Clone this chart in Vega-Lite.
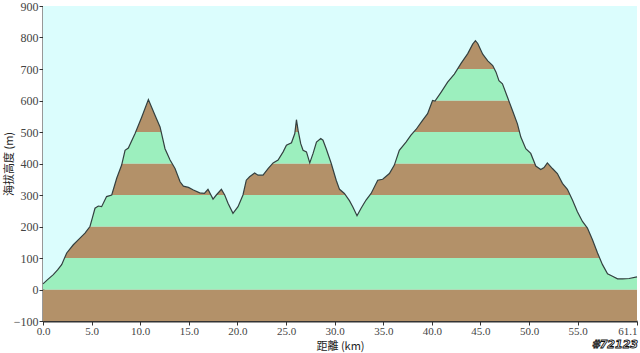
{
  "$schema": "https://vega.github.io/schema/vega-lite/v6.json",
  "width": 594,
  "height": 315,
  "autosize": "none",
  "padding": {"left": 43, "top": 6, "right": 3, "bottom": 32},
  "background": "white",
  "config": {
    "view": {"stroke": null, "fill": "#dbfdfd"},
    "axis": {
      "domainColor": "#333333",
      "domainWidth": 2,
      "tickColor": "#333333",
      "tickSize": 4,
      "grid": false,
      "labelFont": "Liberation Serif",
      "labelFontSize": 12,
      "labelColor": "#444444",
      "titleFont": "Noto Sans CJK TC",
      "titleFontSize": 11,
      "titleFontWeight": "normal",
      "titleColor": "#222222"
    }
  },
  "datasets": {
    "profile": [
      {"km": 0.0, "elev": 18}, {"km": 0.5, "elev": 32}, {"km": 1.06, "elev": 47}, {"km": 1.5, "elev": 62},
      {"km": 1.92, "elev": 79}, {"km": 2.44, "elev": 116}, {"km": 3.12, "elev": 142}, {"km": 3.7, "elev": 160},
      {"km": 4.32, "elev": 179}, {"km": 4.83, "elev": 200}, {"km": 5.1, "elev": 230}, {"km": 5.35, "elev": 258},
      {"km": 5.69, "elev": 265}, {"km": 6.03, "elev": 263}, {"km": 6.54, "elev": 295}, {"km": 7.07, "elev": 300},
      {"km": 7.58, "elev": 353}, {"km": 8.09, "elev": 395}, {"km": 8.44, "elev": 442}, {"km": 8.78, "elev": 449},
      {"km": 9.47, "elev": 495}, {"km": 10.15, "elev": 547}, {"km": 10.84, "elev": 603}, {"km": 11.52, "elev": 553},
      {"km": 12.04, "elev": 516}, {"km": 12.55, "elev": 447}, {"km": 13.07, "elev": 411}, {"km": 13.58, "elev": 384},
      {"km": 14.1, "elev": 342}, {"km": 14.44, "elev": 328}, {"km": 14.96, "elev": 324}, {"km": 15.47, "elev": 316},
      {"km": 16.12, "elev": 307}, {"km": 16.6, "elev": 305}, {"km": 16.97, "elev": 318}, {"km": 17.49, "elev": 287},
      {"km": 17.83, "elev": 300}, {"km": 18.35, "elev": 318}, {"km": 18.69, "elev": 300}, {"km": 19.03, "elev": 274},
      {"km": 19.54, "elev": 242}, {"km": 20.06, "elev": 263}, {"km": 20.57, "elev": 300}, {"km": 20.91, "elev": 347},
      {"km": 21.25, "elev": 358}, {"km": 21.77, "elev": 370}, {"km": 22.12, "elev": 363}, {"km": 22.63, "elev": 363},
      {"km": 23.15, "elev": 384}, {"km": 23.67, "elev": 402}, {"km": 24.18, "elev": 411}, {"km": 24.7, "elev": 437},
      {"km": 25.04, "elev": 458}, {"km": 25.56, "elev": 466}, {"km": 25.9, "elev": 495}, {"km": 26.07, "elev": 539},
      {"km": 26.24, "elev": 505}, {"km": 26.51, "elev": 463}, {"km": 26.75, "elev": 442}, {"km": 27.1, "elev": 437},
      {"km": 27.44, "elev": 402}, {"km": 27.78, "elev": 432}, {"km": 28.13, "elev": 468}, {"km": 28.57, "elev": 479},
      {"km": 28.8, "elev": 474}, {"km": 29.13, "elev": 447}, {"km": 29.65, "elev": 400}, {"km": 30.16, "elev": 347},
      {"km": 30.5, "elev": 318}, {"km": 31.0, "elev": 305}, {"km": 31.52, "elev": 282}, {"km": 31.86, "elev": 263},
      {"km": 32.3, "elev": 234}, {"km": 32.72, "elev": 258}, {"km": 33.23, "elev": 284}, {"km": 33.75, "elev": 305},
      {"km": 34.43, "elev": 347}, {"km": 34.94, "elev": 350}, {"km": 35.63, "elev": 368}, {"km": 36.14, "elev": 395},
      {"km": 36.65, "elev": 442}, {"km": 37.34, "elev": 468}, {"km": 37.85, "elev": 490}, {"km": 38.37, "elev": 508},
      {"km": 39.04, "elev": 537}, {"km": 39.56, "elev": 558}, {"km": 40.07, "elev": 600}, {"km": 40.32, "elev": 598},
      {"km": 40.94, "elev": 626}, {"km": 41.62, "elev": 658}, {"km": 42.31, "elev": 684}, {"km": 43.0, "elev": 718},
      {"km": 43.69, "elev": 749}, {"km": 44.2, "elev": 779}, {"km": 44.48, "elev": 790}, {"km": 44.72, "elev": 781},
      {"km": 45.23, "elev": 747}, {"km": 45.75, "elev": 726}, {"km": 46.26, "elev": 711}, {"km": 46.6, "elev": 690},
      {"km": 46.9, "elev": 663}, {"km": 47.26, "elev": 653}, {"km": 47.77, "elev": 611}, {"km": 48.29, "elev": 568},
      {"km": 48.8, "elev": 526}, {"km": 49.15, "elev": 484}, {"km": 49.66, "elev": 447}, {"km": 50.17, "elev": 432},
      {"km": 50.69, "elev": 392}, {"km": 51.2, "elev": 381}, {"km": 51.54, "elev": 387}, {"km": 51.88, "elev": 402},
      {"km": 52.4, "elev": 384}, {"km": 52.91, "elev": 368}, {"km": 53.43, "elev": 337}, {"km": 53.94, "elev": 318},
      {"km": 54.46, "elev": 284}, {"km": 54.97, "elev": 247}, {"km": 55.49, "elev": 216}, {"km": 56.0, "elev": 195},
      {"km": 56.52, "elev": 158}, {"km": 57.04, "elev": 116}, {"km": 57.55, "elev": 79}, {"km": 58.07, "elev": 50},
      {"km": 58.58, "elev": 42}, {"km": 59.1, "elev": 34}, {"km": 59.61, "elev": 34}, {"km": 60.29, "elev": 35},
      {"km": 61.1, "elev": 40}
    ],
    "bands": [
      {"lo": -100, "hi": 0, "tier": "odd"},
      {"lo": 0, "hi": 100, "tier": "even"},
      {"lo": 100, "hi": 200, "tier": "odd"},
      {"lo": 200, "hi": 300, "tier": "even"},
      {"lo": 300, "hi": 400, "tier": "odd"},
      {"lo": 400, "hi": 500, "tier": "even"},
      {"lo": 500, "hi": 600, "tier": "odd"},
      {"lo": 600, "hi": 700, "tier": "even"},
      {"lo": 700, "hi": 800, "tier": "odd"},
      {"lo": 800, "hi": 900, "tier": "even"}
    ]
  },
  "encoding": {
    "x": {
      "type": "quantitative",
      "scale": {"domain": [0, 61.1], "nice": false, "zero": false},
      "axis": {
        "title": "距離  (km)",
        "values": [0, 5, 10, 15, 20, 25, 30, 35, 40, 45, 50, 55, 61.1],
        "format": ".1f",
        "labelPadding": 0,
        "labelFontSize": 11,
        "titlePadding": 4,
        "labelAlign": {"condition": {"test": "datum.value > 60", "value": "right"}, "value": "center"},
        "labelFlush": false
      }
    },
    "y": {
      "type": "quantitative",
      "scale": {"domain": [-100, 900], "nice": false, "zero": false},
      "axis": {
        "title": "海拔高度 (m)",
        "values": [-100, 0, 100, 200, 300, 400, 500, 600, 700, 800, 900],
        "labelPadding": 1,
        "titleX": -34,
        "titleBaseline": "middle"
      }
    }
  },
  "layer": [
    {
      "data": {"name": "bands"},
      "mark": {"type": "rect"},
      "encoding": {
        "x": {"datum": 0, "type": "quantitative"},
        "x2": {"datum": 61.1},
        "y": {"field": "lo", "type": "quantitative"},
        "y2": {"field": "hi"},
        "color": {
          "field": "tier",
          "type": "nominal",
          "scale": {"domain": ["odd", "even"], "range": ["#b39169", "#9cefbe"]},
          "legend": null
        }
      }
    },
    {
      "data": {"name": "profile"},
      "mark": {"type": "area", "color": "#dbfdfd", "opacity": 1},
      "encoding": {
        "x": {"field": "km", "type": "quantitative"},
        "y": {"field": "elev", "type": "quantitative"},
        "y2": {"datum": 900}
      }
    },
    {
      "data": {"name": "profile"},
      "mark": {"type": "line", "color": "#334040", "strokeWidth": 1.2},
      "encoding": {
        "x": {"field": "km", "type": "quantitative"},
        "y": {"field": "elev", "type": "quantitative"}
      }
    },
    {
      "data": {"values": [{"label": "#72123"}]},
      "mark": {
        "type": "text",
        "align": "right",
        "baseline": "top",
        "dy": 18,
        "dx": 1,
        "font": "DejaVu Sans",
        "fontSize": 11,
        "fontWeight": "bold",
        "fontStyle": "italic",
        "fill": "white",
        "stroke": "#111111",
        "strokeWidth": 0.9
      },
      "encoding": {
        "x": {"datum": 61.1, "type": "quantitative"},
        "y": {"datum": -100, "type": "quantitative"},
        "text": {"field": "label"}
      }
    }
  ]
}
